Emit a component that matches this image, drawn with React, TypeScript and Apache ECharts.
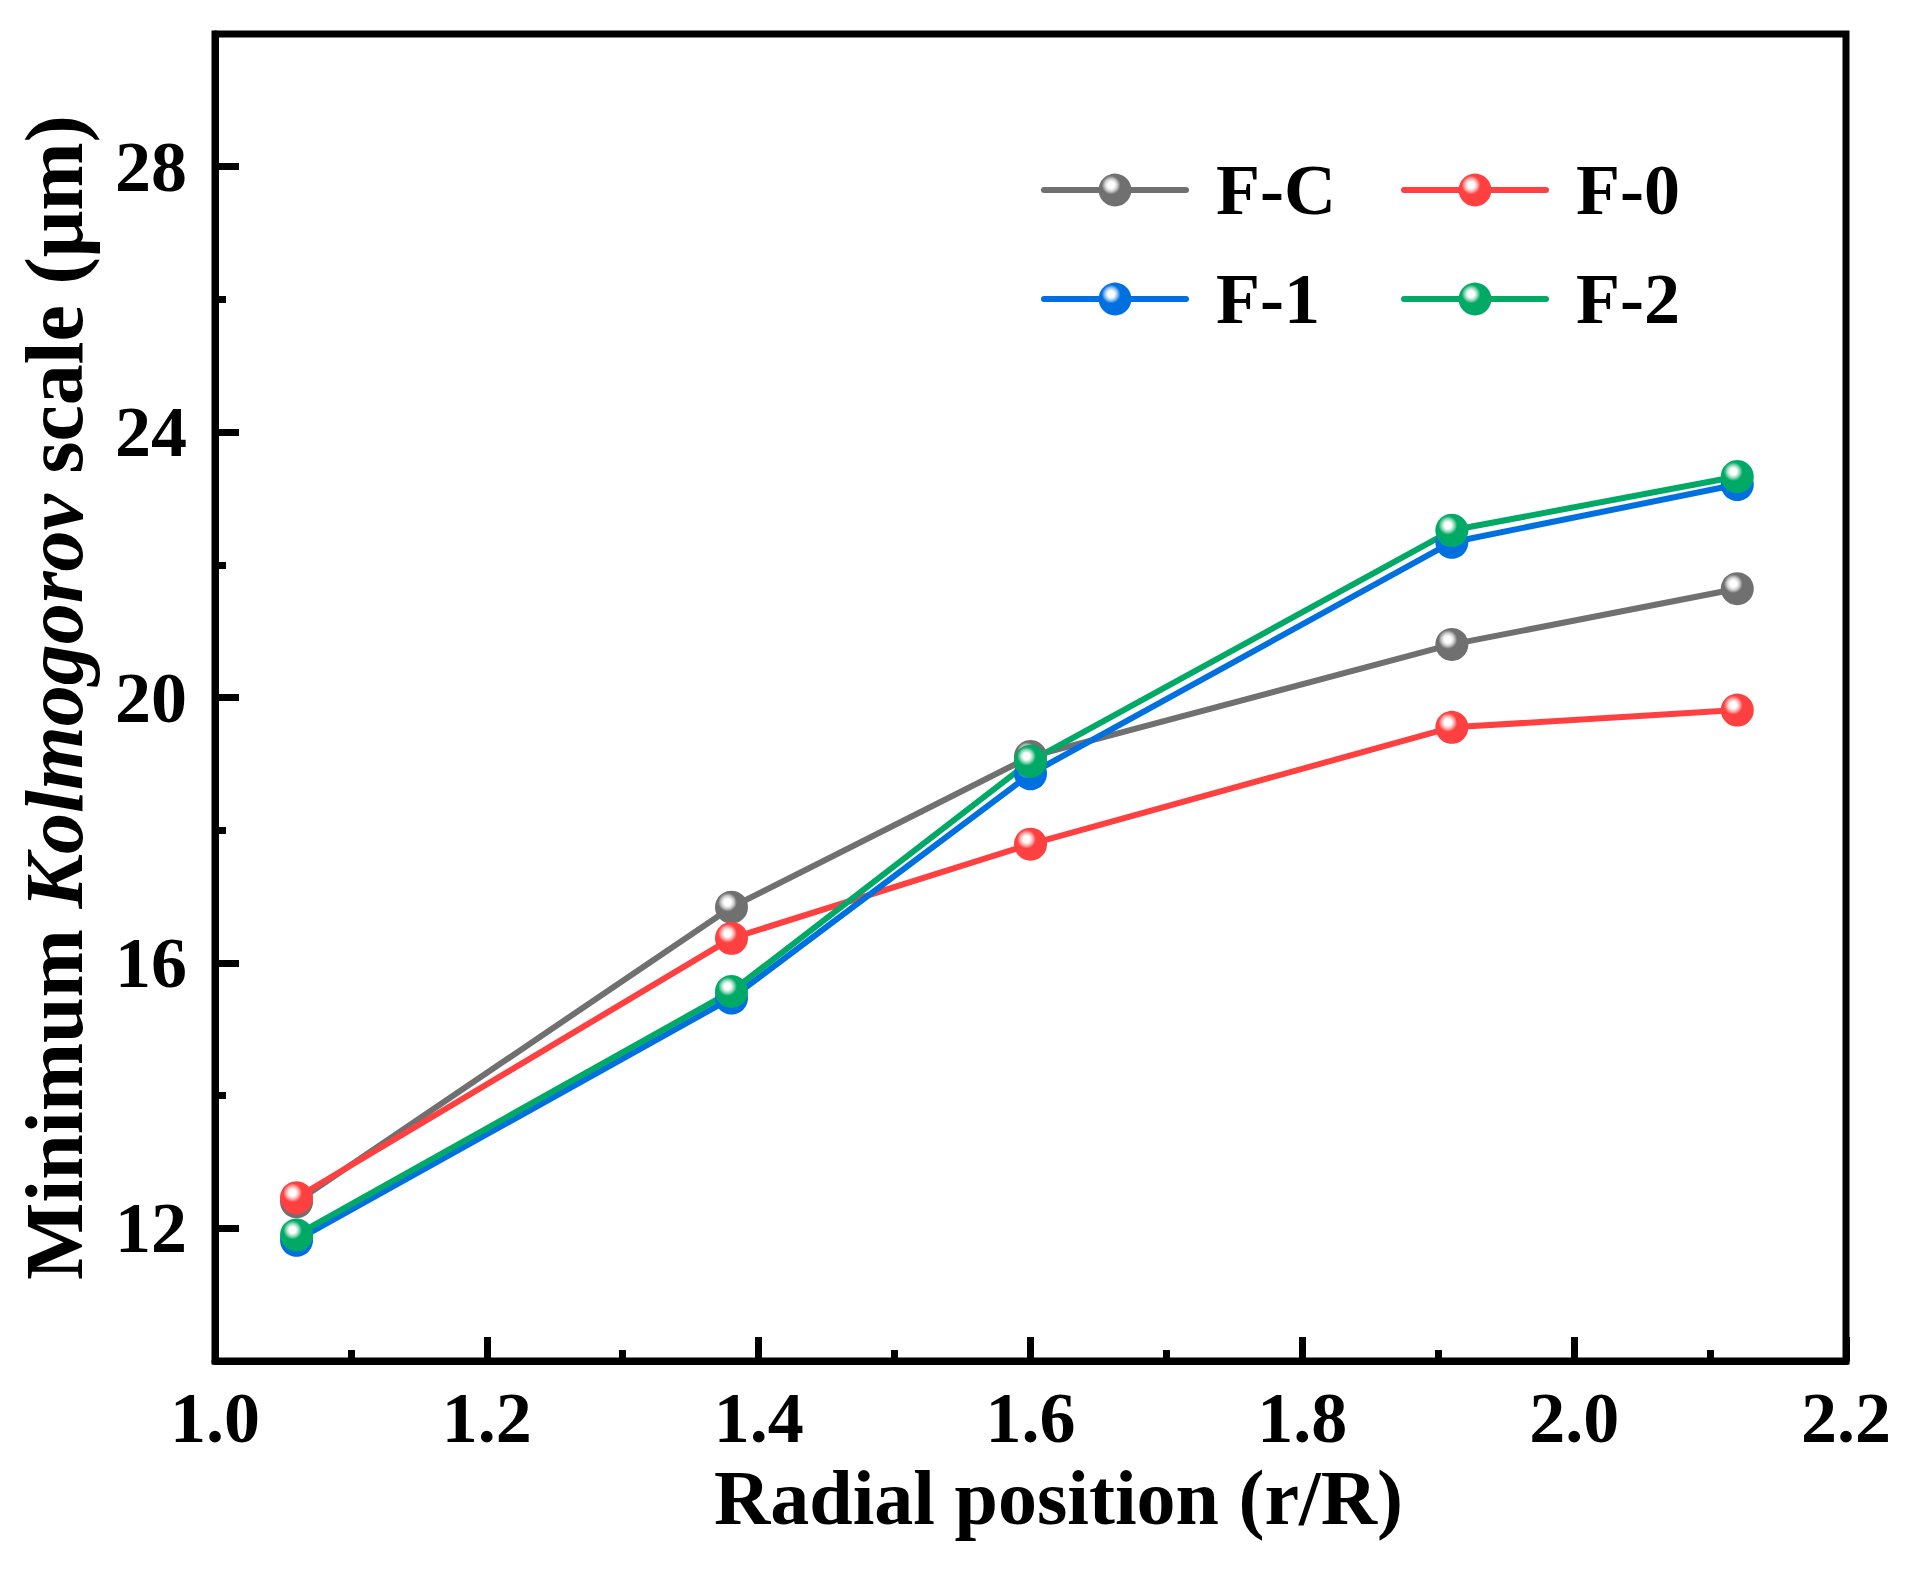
import React, { useEffect, useRef } from 'react';
import * as echarts from 'echarts';

const radialPositions = [1.06, 1.38, 1.6, 1.91, 2.12];
const seriesNames = ['F-C', 'F-0', 'F-1', 'F-2'];
const valuesFC = [12.4, 16.84, 19.11, 20.8, 21.64];
const valuesF0 = [12.46, 16.37, 17.79, 19.55, 19.81];
const valuesF1 = [11.82, 15.47, 18.85, 22.34, 23.21];
const valuesF2 = [11.9, 15.57, 19.04, 22.52, 23.33];
const yMajorTicks = [12, 16, 20, 24, 28];
const yMinorTicks = [14, 18, 22, 26];
const seriesColors = ['#707070', '#FF4040', '#0070E0', '#00AA66'];
const seriesTints = ['#d0d0d0', '#ffb4b4', '#9cc8f4', '#9cdcc0'];

const FONT = "'Liberation Serif', 'DejaVu Serif', serif";

function glossy(base: string, tint: string) {
  return new echarts.graphic.RadialGradient(0.38, 0.35, 0.62, [
    { offset: 0, color: '#ffffff' },
    { offset: 0.16, color: '#ffffff' },
    { offset: 0.3, color: tint },
    { offset: 0.46, color: base },
    { offset: 1, color: base },
  ]);
}

export default function App() {
  const ref = useRef<HTMLDivElement>(null);
  useEffect(() => {
    document.body.style.margin = '0';
    if (!ref.current) return;
    const chart = echarts.init(ref.current, null, { renderer: 'svg' });
    const allValues = [valuesFC, valuesF0, valuesF1, valuesF2];
    const series = seriesNames.map((name, i) => ({
      name,
      type: 'line',
      xAxisIndex: 0,
      yAxisIndex: 0,
      data: radialPositions.map((x, j) => [x, allValues[i][j]]),
      symbol: 'circle',
      symbolSize: 33,
      showSymbol: true,
      lineStyle: { width: 6, color: seriesColors[i] },
      itemStyle: { color: glossy(seriesColors[i], seriesTints[i]) },
      emphasis: { disabled: true },
    }));
    const legendCommon = {
      orient: 'vertical',
      itemWidth: 142,
      itemHeight: 41,
      itemGap: 37,
      selectedMode: false,
      lineStyle: { width: 6, cap: 'round' },
      textStyle: {
        fontFamily: FONT,
        fontWeight: 'bold',
        fontSize: 72,
        lineHeight: 72,
        color: '#000',
        padding: [0, 0, 0, 25],
      },
    };
    chart.setOption({
      animation: false,
      backgroundColor: '#ffffff',
      grid: {
        left: 215,
        right: 64,
        top: 34,
        bottom: 222,
        show: true,
        borderColor: '#000',
        borderWidth: 7,
      },
      legend: [
        { ...legendCommon, data: ['F-C', 'F-1'], left: 1036, top: 149 },
        { ...legendCommon, data: ['F-0', 'F-2'], left: 1396, top: 149 },
      ],
      xAxis: {
        type: 'value',
        min: 1.0,
        max: 2.2,
        interval: 0.2,
        name: 'Radial position (r/R)',
        nameLocation: 'middle',
        nameGap: 90,
        nameTextStyle: {
          fontFamily: FONT,
          fontWeight: 'bold',
          fontSize: 78,
          color: '#000',
          padding: [0, 0, 0, 56],
        },
        axisLine: { show: true, onZero: false, lineStyle: { color: '#000', width: 7 } },
        axisTick: { show: true, inside: true, length: 24, lineStyle: { color: '#000', width: 7 } },
        minorTick: { show: true, splitNumber: 2, length: 11, lineStyle: { color: '#000', width: 7 } },
        splitLine: { show: false },
        axisLabel: {
          fontFamily: FONT,
          fontWeight: 'bold',
          fontSize: 72,
          color: '#000',
          margin: 21,
          formatter: (v: number) => v.toFixed(1),
        },
      },
      yAxis: [
        {
          type: 'value',
          min: 10,
          max: 30,
          name: 'Minimum {i|Kolmogorov} scale (μm)',
          nameLocation: 'middle',
          nameGap: 120,
          nameRotate: 90,
          nameTextStyle: {
            fontFamily: FONT,
            fontWeight: 'bold',
            fontSize: 82,
            color: '#000',
            rich: {
              i: { fontFamily: FONT, fontWeight: 'bold', fontStyle: 'italic', fontSize: 82, color: '#000' },
            },
          },
          axisLine: { show: true, onZero: false, lineStyle: { color: '#000', width: 7 } },
          axisTick: {
            show: true,
            inside: true,
            length: 24,
            customValues: yMajorTicks,
            lineStyle: { color: '#000', width: 7 },
          },
          splitLine: { show: false },
          axisLabel: {
            fontFamily: FONT,
            fontWeight: 'bold',
            fontSize: 72,
            color: '#000',
            margin: 28,
            customValues: yMajorTicks,
          },
        },
        {
          type: 'value',
          min: 10,
          max: 30,
          position: 'left',
          axisLine: { show: false },
          axisTick: {
            show: true,
            inside: true,
            length: 11,
            customValues: yMinorTicks,
            lineStyle: { color: '#000', width: 7 },
          },
          axisLabel: { show: false },
          splitLine: { show: false },
        },
      ],
      series,
    });
    return () => chart.dispose();
  }, []);
  return <div ref={ref} style={{ width: 1910, height: 1583 }} />;
}
